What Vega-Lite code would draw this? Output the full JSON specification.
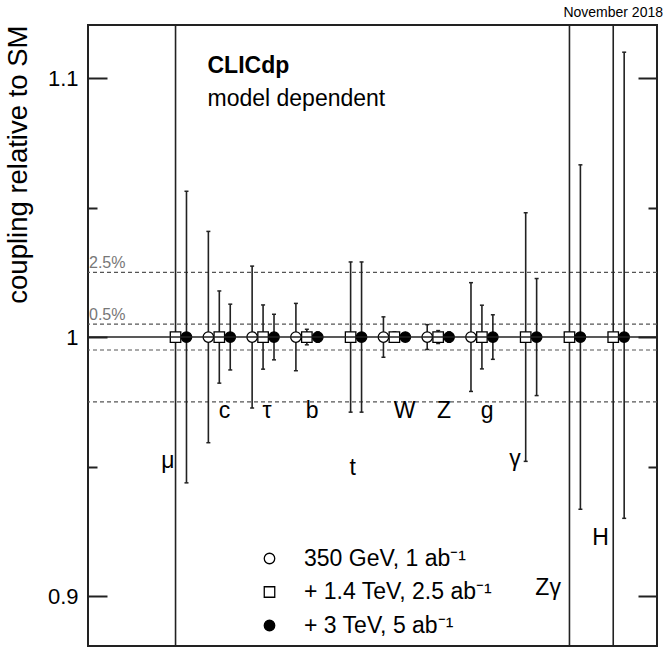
{
  "$schema": "https://vega.github.io/schema/vega-lite/v6.json",
  "width": 569,
  "height": 621,
  "autosize": {"type": "none"},
  "padding": {"left": 88, "top": 25, "right": 7, "bottom": 1},
  "background": "white",
  "config": {"view": {"stroke": "#222", "strokeWidth": 2}, "font": "Liberation Sans"},
  "title": {"text": "November 2018", "anchor": "end", "fontSize": 14, "fontWeight": "normal", "font": "Liberation Sans", "color": "black", "dx": 5, "offset": 5},
  "datasets": {
    "pts": [
      {"param": "μ", "series": "+ 1.4 TeV, 2.5 ab⁻¹", "pos": 0, "val": 1, "lo": 0.75, "hi": 1.25},
      {"param": "μ", "series": "+ 3 TeV, 5 ab⁻¹", "pos": 1, "val": 1, "lo": 0.9437, "hi": 1.0563},
      {"param": "c", "series": "350 GeV, 1 ab⁻¹", "pos": 3, "val": 1, "lo": 0.9592, "hi": 1.0408},
      {"param": "c", "series": "+ 1.4 TeV, 2.5 ab⁻¹", "pos": 4, "val": 1, "lo": 0.9822, "hi": 1.0178},
      {"param": "c", "series": "+ 3 TeV, 5 ab⁻¹", "pos": 5, "val": 1, "lo": 0.9873, "hi": 1.0127},
      {"param": "τ", "series": "350 GeV, 1 ab⁻¹", "pos": 7, "val": 1, "lo": 0.9726, "hi": 1.0274},
      {"param": "τ", "series": "+ 1.4 TeV, 2.5 ab⁻¹", "pos": 8, "val": 1, "lo": 0.9876, "hi": 1.0124},
      {"param": "τ", "series": "+ 3 TeV, 5 ab⁻¹", "pos": 9, "val": 1, "lo": 0.9912, "hi": 1.0088},
      {"param": "b", "series": "350 GeV, 1 ab⁻¹", "pos": 11, "val": 1, "lo": 0.987, "hi": 1.013},
      {"param": "b", "series": "+ 1.4 TeV, 2.5 ab⁻¹", "pos": 12, "val": 1, "lo": 0.997, "hi": 1.003},
      {"param": "b", "series": "+ 3 TeV, 5 ab⁻¹", "pos": 13, "val": 1, "lo": 0.998, "hi": 1.002},
      {"param": "t", "series": "+ 1.4 TeV, 2.5 ab⁻¹", "pos": 16, "val": 1, "lo": 0.971, "hi": 1.029},
      {"param": "t", "series": "+ 3 TeV, 5 ab⁻¹", "pos": 17, "val": 1, "lo": 0.971, "hi": 1.029},
      {"param": "W", "series": "350 GeV, 1 ab⁻¹", "pos": 19, "val": 1, "lo": 0.9922, "hi": 1.0078},
      {"param": "W", "series": "+ 1.4 TeV, 2.5 ab⁻¹", "pos": 20, "val": 1, "lo": 0.998, "hi": 1.002},
      {"param": "W", "series": "+ 3 TeV, 5 ab⁻¹", "pos": 21, "val": 1, "lo": 0.9985, "hi": 1.0015},
      {"param": "Z", "series": "350 GeV, 1 ab⁻¹", "pos": 23, "val": 1, "lo": 0.9952, "hi": 1.0048},
      {"param": "Z", "series": "+ 1.4 TeV, 2.5 ab⁻¹", "pos": 24, "val": 1, "lo": 0.9975, "hi": 1.0025},
      {"param": "Z", "series": "+ 3 TeV, 5 ab⁻¹", "pos": 25, "val": 1, "lo": 0.998, "hi": 1.002},
      {"param": "g", "series": "350 GeV, 1 ab⁻¹", "pos": 27, "val": 1, "lo": 0.979, "hi": 1.021},
      {"param": "g", "series": "+ 1.4 TeV, 2.5 ab⁻¹", "pos": 28, "val": 1, "lo": 0.9877, "hi": 1.0123},
      {"param": "g", "series": "+ 3 TeV, 5 ab⁻¹", "pos": 29, "val": 1, "lo": 0.9914, "hi": 1.0086},
      {"param": "γ", "series": "+ 1.4 TeV, 2.5 ab⁻¹", "pos": 32, "val": 1, "lo": 0.952, "hi": 1.048},
      {"param": "γ", "series": "+ 3 TeV, 5 ab⁻¹", "pos": 33, "val": 1, "lo": 0.9774, "hi": 1.0226},
      {"param": "Zγ", "series": "+ 1.4 TeV, 2.5 ab⁻¹", "pos": 36, "val": 1, "lo": 0.75, "hi": 1.25},
      {"param": "Zγ", "series": "+ 3 TeV, 5 ab⁻¹", "pos": 37, "val": 1, "lo": 0.9335, "hi": 1.0665},
      {"param": "H", "series": "+ 1.4 TeV, 2.5 ab⁻¹", "pos": 40, "val": 1, "lo": 0.75, "hi": 1.25},
      {"param": "H", "series": "+ 3 TeV, 5 ab⁻¹", "pos": 41, "val": 1, "lo": 0.930, "hi": 1.110}
    ],
    "labels": [
      {"label": "μ", "pos": -0.69, "val": 0.9494},
      {"label": "c", "pos": 4.48, "val": 0.9687},
      {"label": "τ", "pos": 8.36, "val": 0.9687},
      {"label": "b", "pos": 12.48, "val": 0.9687},
      {"label": "t", "pos": 16.18, "val": 0.9467},
      {"label": "W", "pos": 20.93, "val": 0.9687},
      {"label": "Z", "pos": 24.54, "val": 0.9687},
      {"label": "g", "pos": 28.47, "val": 0.9687},
      {"label": "γ", "pos": 31.03, "val": 0.9502},
      {"label": "Zγ", "pos": 34.05, "val": 0.9004},
      {"label": "H", "pos": 38.85, "val": 0.9197}
    ],
    "refs": [
      {"v": 0.975}, {"v": 0.995}, {"v": 1.005}, {"v": 1.025}
    ],
    "reflabels": [
      {"t": "2.5%", "v": 1.025}, {"t": "0.5%", "v": 1.005}
    ]
  },
  "layer": [
    {
      "layer": [
        {
          "data": {"name": "refs"},
          "mark": {"type": "rule", "color": "#555", "strokeWidth": 1.2, "strokeDash": [4, 3]},
          "encoding": {
            "y": {"field": "v", "type": "quantitative", "scale": {"domain": [0.8807, 1.1205], "nice": false, "zero": false},
              "axis": {
                "orient": "left",
                "values": [0.9, 0.95, 1, 1.05, 1.1],
                "format": "~g",
                "labelExpr": "datum.value == 0.95 || datum.value == 1.05 ? '' : datum.label",
                "tickSize": {"condition": {"test": "datum.value == 0.95 || datum.value == 1.05", "value": -9}, "value": -19},
                "tickWidth": 2,
                "tickColor": "#222",
                "labelPadding": 29,
                "labelFontSize": 22,
                "labelFont": "Liberation Sans",
                "labelColor": "black",
                "domain": false,
                "grid": false,
                "title": "coupling relative to SM",
                "titleFontSize": 27.5,
                "titleFontWeight": "normal",
                "titleFont": "Liberation Sans",
                "titleColor": "black",
                "titleAnchor": "end",
                "titlePadding": 15
              }
            }
          }
        },
        {
          "data": {"name": "reflabels"},
          "mark": {"type": "text", "align": "left", "baseline": "bottom", "dx": 1, "dy": -1, "fontSize": 16, "color": "#777"},
          "encoding": {
            "x": {"datum": -8, "type": "quantitative", "scale": {"domain": [-8, 44], "nice": false, "zero": false}, "axis": null},
            "y": {"field": "v", "type": "quantitative", "scale": {"domain": [0.8807, 1.1205], "nice": false, "zero": false}},
            "text": {"field": "t"}
          }
        },
        {
          "data": {"name": "pts"},
          "mark": {"type": "rule", "color": "#222", "strokeWidth": 1.6, "clip": true},
          "encoding": {
            "x": {"field": "pos", "type": "quantitative", "scale": {"domain": [-8, 44], "nice": false, "zero": false}, "axis": null},
            "y": {"field": "lo", "type": "quantitative", "scale": {"domain": [0.8807, 1.1205], "nice": false, "zero": false}},
            "y2": {"field": "hi"}
          }
        },
        {
          "data": {"name": "pts"},
          "mark": {"type": "tick", "orient": "horizontal", "color": "#222", "size": 4, "thickness": 1.5, "clip": true, "opacity": 1},
          "encoding": {
            "x": {"field": "pos", "type": "quantitative", "scale": {"domain": [-8, 44], "nice": false, "zero": false}, "axis": null},
            "y": {"field": "lo", "type": "quantitative", "scale": {"domain": [0.8807, 1.1205], "nice": false, "zero": false}}
          }
        },
        {
          "data": {"name": "pts"},
          "mark": {"type": "tick", "orient": "horizontal", "color": "#222", "size": 4, "thickness": 1.5, "clip": true, "opacity": 1},
          "encoding": {
            "x": {"field": "pos", "type": "quantitative", "scale": {"domain": [-8, 44], "nice": false, "zero": false}, "axis": null},
            "y": {"field": "hi", "type": "quantitative", "scale": {"domain": [0.8807, 1.1205], "nice": false, "zero": false}}
          }
        },
        {
          "data": {"name": "pts"},
          "mark": {"type": "point", "filled": true, "opacity": 1, "strokeWidth": 1.3},
          "encoding": {
            "x": {"field": "pos", "type": "quantitative", "scale": {"domain": [-8, 44], "nice": false, "zero": false}, "axis": null},
            "y": {"field": "val", "type": "quantitative", "scale": {"domain": [0.8807, 1.1205], "nice": false, "zero": false}},
            "shape": {"field": "series", "type": "nominal",
              "scale": {"domain": ["350 GeV, 1 ab⁻¹", "+ 1.4 TeV, 2.5 ab⁻¹", "+ 3 TeV, 5 ab⁻¹"], "range": ["circle", "square", "circle"]},
              "legend": {"title": null, "orient": "none", "legendX": 170, "legendY": 522, "labelFontSize": 23, "labelFont": "Liberation Sans", "labelColor": "black", "labelLimit": 400, "labelOffset": 23, "rowPadding": 9.5, "padding": 0, "symbolSize": 110, "symbolStrokeWidth": 1.3, "symbolOpacity": 1}},
            "fill": {"field": "series", "type": "nominal",
              "scale": {"domain": ["350 GeV, 1 ab⁻¹", "+ 1.4 TeV, 2.5 ab⁻¹", "+ 3 TeV, 5 ab⁻¹"], "range": ["white", "white", "black"]},
              "legend": {"title": null, "orient": "none", "legendX": 170, "legendY": 522, "labelFontSize": 23, "labelFont": "Liberation Sans", "labelColor": "black", "labelLimit": 400, "labelOffset": 23, "rowPadding": 9.5, "padding": 0, "symbolSize": 110, "symbolStrokeWidth": 1.3, "symbolOpacity": 1}},
            "stroke": {"field": "series", "type": "nominal",
              "scale": {"domain": ["350 GeV, 1 ab⁻¹", "+ 1.4 TeV, 2.5 ab⁻¹", "+ 3 TeV, 5 ab⁻¹"], "range": ["black", "black", "black"]},
              "legend": {"title": null, "orient": "none", "legendX": 170, "legendY": 522, "labelFontSize": 23, "labelFont": "Liberation Sans", "labelColor": "black", "labelLimit": 400, "labelOffset": 23, "rowPadding": 9.5, "padding": 0, "symbolSize": 110, "symbolStrokeWidth": 1.3, "symbolOpacity": 1}},
            "size": {"value": 110}
          }
        },
        {
          "data": {"name": "labels"},
          "mark": {"type": "text", "align": "center", "baseline": "alphabetic", "fontSize": 23, "color": "black"},
          "encoding": {
            "x": {"field": "pos", "type": "quantitative", "scale": {"domain": [-8, 44], "nice": false, "zero": false}, "axis": null},
            "y": {"field": "val", "type": "quantitative", "scale": {"domain": [0.8807, 1.1205], "nice": false, "zero": false}},
            "text": {"field": "label"}
          }
        },
        {
          "data": {"values": [{"t": "CLICdp"}]},
          "mark": {"type": "text", "align": "left", "baseline": "alphabetic", "fontSize": 23, "fontWeight": "bold", "color": "black"},
          "encoding": {
            "x": {"datum": 2.92, "type": "quantitative", "scale": {"domain": [-8, 44], "nice": false, "zero": false}, "axis": null},
            "y": {"datum": 1.1018, "type": "quantitative", "scale": {"domain": [0.8807, 1.1205], "nice": false, "zero": false}},
            "text": {"field": "t"}
          }
        },
        {
          "data": {"values": [{"t": "model dependent"}]},
          "mark": {"type": "text", "align": "left", "baseline": "alphabetic", "fontSize": 23, "color": "black"},
          "encoding": {
            "x": {"datum": 2.92, "type": "quantitative", "scale": {"domain": [-8, 44], "nice": false, "zero": false}, "axis": null},
            "y": {"datum": 1.0893, "type": "quantitative", "scale": {"domain": [0.8807, 1.1205], "nice": false, "zero": false}},
            "text": {"field": "t"}
          }
        }
      ]
    },
    {
      "data": {"values": [{"v": 1}]},
      "mark": {"type": "rule", "color": "#222", "strokeWidth": 1.5},
      "encoding": {
        "y": {"field": "v", "type": "quantitative", "scale": {"domain": [0.8807, 1.1205], "nice": false, "zero": false},
          "axis": {
            "orient": "right",
            "values": [0.9, 0.95, 1, 1.05, 1.1],
            "labels": false,
            "tickSize": {"condition": {"test": "datum.value == 0.95 || datum.value == 1.05", "value": -9}, "value": -19},
            "tickWidth": 2,
            "tickColor": "#222",
            "domain": false,
            "grid": false,
            "title": null
          }
        }
      }
    }
  ],
  "resolve": {"axis": {"y": "independent"}}
}
